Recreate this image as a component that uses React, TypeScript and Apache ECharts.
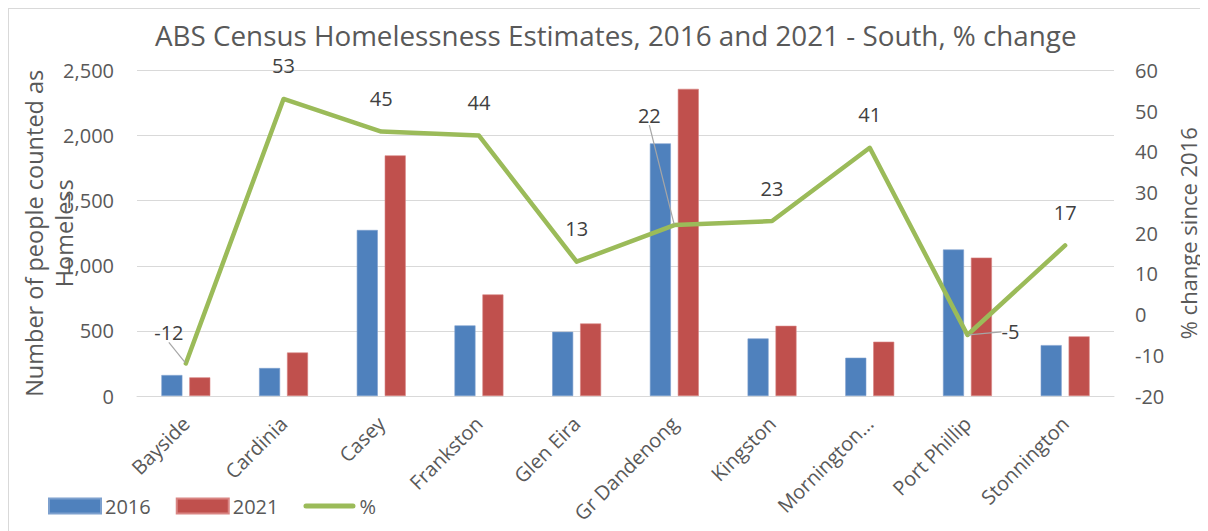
import React, { useEffect, useRef } from "react";
import * as echarts from "echarts";

const categories = [
  "Bayside",
  "Cardinia",
  "Casey",
  "Frankston",
  "Glen Eira",
  "Gr Dandenong",
  "Kingston",
  "Mornington Peninsula",
  "Port Phillip",
  "Stonnington",
];
const values2016 = [161, 215, 1275, 542, 493, 1940, 442, 294, 1125, 391];
const values2021 = [143, 334, 1848, 780, 557, 2359, 539, 417, 1063, 458];
const pctChange = [-12, 53, 45, 44, 13, 22, 23, 41, -5, 17];

const leftAxis = { min: 0, max: 2500, interval: 500 };
const rightAxis = { min: -20, max: 60, interval: 10 };

const titleText = "ABS Census Homelessness Estimates, 2016 and 2021 - South, % change";
const leftAxisName = "Number of people counted as\nHomeless";
const rightAxisName = "% change since 2016";
const seriesNames = ["2016", "2021", "%"];

// label nudges (styling, not data)
const labelShift: Record<number, [number, number]> = {
  0: [-17, 2],
  5: [-25, -77],
  8: [43, 30],
};
const leaderIdx = [0, 5, 8];

const FONT = "'Open Sans', 'Noto Sans', sans-serif";
const GREY = "#595959";
const GREEN = "#9BBB59";
const LINE_ICON =
  "path://M2.5,0 L49.5,0 A2.5,2.5 0 0 1 49.5,5 L2.5,5 A2.5,2.5 0 0 1 2.5,0 Z";

export default function App() {
  const ref = useRef<HTMLDivElement>(null);
  useEffect(() => {
    if (!ref.current) return;
    const chart = echarts.init(ref.current, undefined, { renderer: "svg" });
    chart.setOption({
      animation: false,
      backgroundColor: "#ffffff",
      textStyle: { fontFamily: FONT },
      title: {
        text: titleText,
        left: 146,
        top: 12,
        padding: 0,
        textStyle: { fontSize: 27.8, fontWeight: "normal", color: GREY, fontFamily: FONT },
      },
      legend: {
        left: 39,
        top: 487,
        padding: 0,
        itemWidth: 52,
        itemHeight: 15,
        itemGap: 25,
        textStyle: { fontSize: 20, color: GREY, fontFamily: FONT, padding: [0, 0, 0, -1] },
        data: [
          { name: seriesNames[0], icon: "rect" },
          { name: seriesNames[1], icon: "rect" },
          { name: seriesNames[2], icon: LINE_ICON, itemStyle: { color: GREEN, opacity: 1 } },
        ],
      },
      grid: {
        left: 128,
        right: 94,
        top: 61.5,
        bottom: 135,
        containLabel: false,
        outerBoundsMode: "none",
      },
      xAxis: {
        type: "category",
        data: categories,
        axisTick: { show: false },
        axisLine: { lineStyle: { color: "#d9d9d9", width: 1 } },
        axisLabel: {
          interval: 0,
          rotate: 45,
          margin: 24,
          fontSize: 20,
          color: GREY,
          fontFamily: FONT,
          formatter: (v: string) => (v.length > 14 ? v.slice(0, 10) + "..." : v),
        },
      },
      yAxis: [
        {
          type: "value",
          min: leftAxis.min,
          max: leftAxis.max,
          interval: leftAxis.interval,
          name: leftAxisName,
          nameLocation: "middle",
          nameRotate: 90,
          nameGap: 58,
          nameMoveOverlap: false,
          nameTextStyle: { fontSize: 23.5, color: GREY, lineHeight: 30, fontFamily: FONT },
          axisLine: { show: false },
          axisTick: { show: false },
          axisLabel: {
            margin: 23,
            fontSize: 20,
            color: GREY,
            fontFamily: FONT,
            formatter: (v: number) => v.toLocaleString("en-US"),
          },
          splitLine: { lineStyle: { color: "#d9d9d9", width: 1 } },
        },
        {
          type: "value",
          min: rightAxis.min,
          max: rightAxis.max,
          interval: rightAxis.interval,
          name: rightAxisName,
          nameLocation: "middle",
          nameRotate: 90,
          nameGap: 62,
          nameMoveOverlap: false,
          nameTextStyle: { fontSize: 22, color: GREY, lineHeight: 24, fontFamily: FONT },
          axisLine: { show: false },
          axisTick: { show: false },
          axisLabel: { margin: 21, fontSize: 20, color: GREY, fontFamily: FONT },
          splitLine: { show: false },
        },
      ],
      series: [
        {
          name: seriesNames[0],
          type: "bar",
          data: values2016,
          barWidth: 21,
          barGap: "33%",
          itemStyle: { color: "#4F81BD", borderColor: "#7DA0CE", borderWidth: 0.6 },
        },
        {
          name: seriesNames[1],
          type: "bar",
          data: values2021,
          barWidth: 21,
          barGap: "33%",
          itemStyle: { color: "#C0504D", borderColor: "#D98583", borderWidth: 0.6 },
        },
        {
          name: seriesNames[2],
          type: "line",
          yAxisIndex: 1,
          data: pctChange.map((v, i) => ({
            value: v,
            labelLine: { show: leaderIdx.includes(i) },
          })),
          symbol: "circle",
          symbolSize: 2,
          showSymbol: true,
          z: 5,
          lineStyle: { color: GREEN, width: 4.5, cap: "round", join: "round" },
          itemStyle: { color: GREEN },
          label: {
            show: true,
            position: "top",
            distance: 22,
            fontSize: 20,
            color: "#404040",
            fontFamily: FONT,
          },
          labelLine: {
            show: false,
            lineStyle: { color: "#a6a6a6", width: 1.2 },
          },
          labelLayout: (p: any) => {
            const s = labelShift[p.dataIndex];
            return s ? { dx: s[0], dy: s[1] } : {};
          },
        },
      ],
    });
    return () => chart.dispose();
  }, []);
  return (
    <div
      style={{
        width: 1200,
        height: 523,
        borderTop: "1px solid #d9d9d9",
        borderLeft: "1px solid #d9d9d9",
        boxSizing: "border-box",
        background: "#fff",
      }}
    >
      <div ref={ref} style={{ width: 1199, height: 522 }} />
    </div>
  );
}
